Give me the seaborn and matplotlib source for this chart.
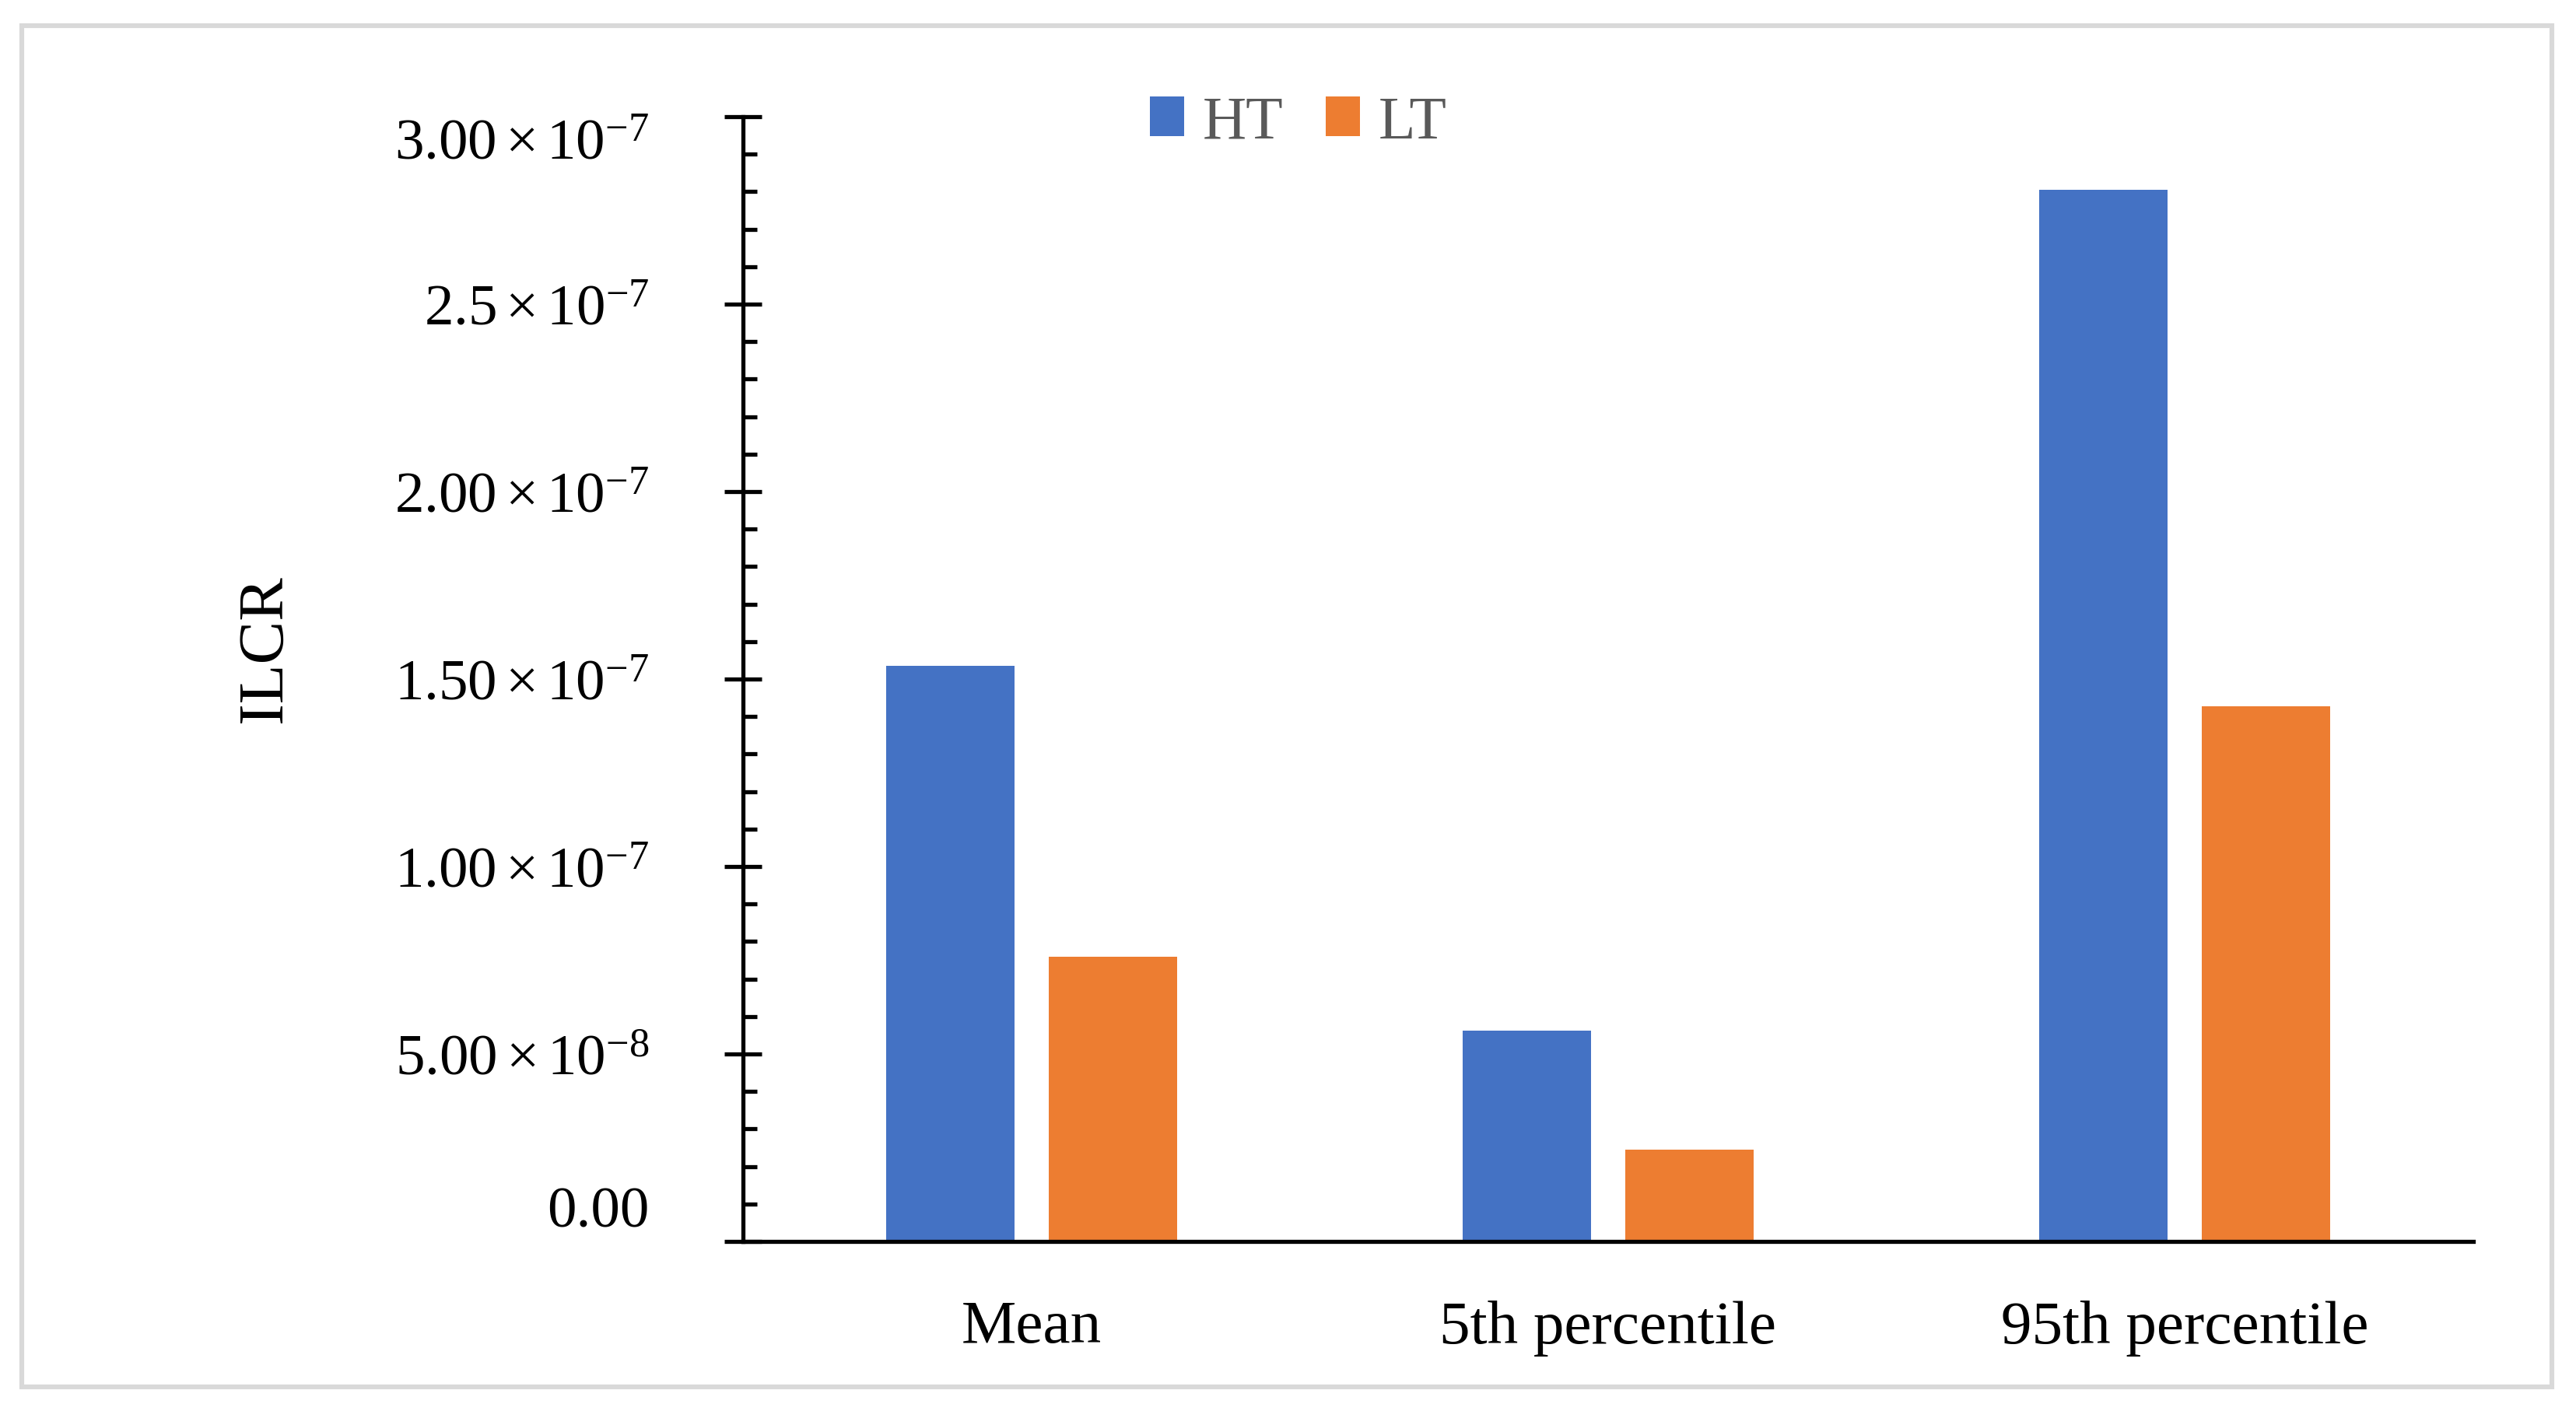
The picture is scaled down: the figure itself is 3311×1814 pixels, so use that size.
import numpy as np
import pandas as pd
import matplotlib
matplotlib.use("Agg")
import matplotlib.pyplot as plt
import seaborn as sns
from matplotlib.ticker import MultipleLocator, FixedLocator
import matplotlib.transforms as mtransforms
from matplotlib.patches import Rectangle

# ---- data ----
categories = ["Mean", "5th percentile", "95th percentile"]
groups = ["HT", "LT"]
ht_values = [1.535e-7, 0.562e-7, 2.805e-7]
lt_values = [0.760e-7, 0.245e-7, 1.428e-7]
ytick_values = [0.0, 0.5e-7, 1.0e-7, 1.5e-7, 2.0e-7, 2.5e-7, 3.0e-7]
ytick_labels = ["0.00",
                r"$5.00\times10^{-8}$",
                r"$1.00\times10^{-7}$",
                r"$1.50\times10^{-7}$",
                r"$2.00\times10^{-7}$",
                r"$2.5\times10^{-7}$",
                r"$3.00\times10^{-7}$"]
colors = ["#4472C4", "#ED7D31"]
y_label = "ILCR"

df = pd.DataFrame({
    "Statistic": categories * 2,
    "Group": [groups[0]] * len(categories) + [groups[1]] * len(categories),
    "ILCR": ht_values + lt_values,
})

sns.set_theme(style="white")
plt.rcParams["font.family"] = ["Liberation Serif", "DejaVu Serif"]
plt.rcParams["mathtext.fontset"] = "custom"
plt.rcParams["mathtext.rm"] = "Liberation Serif"
plt.rcParams["mathtext.it"] = "Liberation Serif:italic"
plt.rcParams["mathtext.bf"] = "Liberation Serif:bold"

W, H = 3311, 1815
DPI = 200
fig = plt.figure(figsize=(W / DPI, H / DPI), dpi=DPI)
fig.patch.set_facecolor("white")

left, right, bottom, top = 955 / W, 3179 / W, 1 - 1597 / H, 1 - 151 / H
ax = fig.add_axes([left, bottom, right - left, top - bottom])

sns.barplot(data=df, x="Statistic", y="ILCR", hue="Group",
            order=categories, hue_order=groups, palette=colors,
            saturation=1, width=0.564, gap=0.212, errorbar=None,
            linewidth=0, ax=ax)

ax.set_xlim(-0.5, 2.5)
ax.set_ylim(0, 3e-7)

for s in ["top", "right"]:
    ax.spines[s].set_visible(False)
for s in ["left", "bottom"]:
    ax.spines[s].set_linewidth(1.9)
    ax.spines[s].set_color("black")

ax.yaxis.set_major_locator(FixedLocator(ytick_values))
ax.set_yticklabels(ytick_labels)
ax.yaxis.set_minor_locator(MultipleLocator(1e-8))
ax.tick_params(axis="y", which="major", direction="inout", length=17,
               width=1.9, color="black", pad=35, labelsize=27,
               labelcolor="black", left=True)
ax.tick_params(axis="y", which="minor", direction="in", length=6.5,
               width=1.9, color="black", left=True)
ax.tick_params(axis="x", which="both", length=0, pad=27, labelsize=28.5,
               labelcolor="black")

ax.set_xlabel("")
ax.set_ylabel(y_label, fontsize=30, color="black")
ax.yaxis.label.set_verticalalignment("center")
ax.yaxis.set_label_coords((341 - 955) / (3179 - 955), (1597 - 834) / (1597 - 151))

# legend
handles, labels = ax.get_legend_handles_labels()
if ax.get_legend() is not None:
    ax.get_legend().remove()
fig.legend(handles, labels, loc="center", bbox_to_anchor=(0.504, 1 - 159 / H),
           ncol=2, frameon=False, fontsize=28, labelcolor="#595959",
           handlelength=0.57, handleheight=0.62, handletextpad=0.3,
           columnspacing=0.7, borderaxespad=0, borderpad=0)

# outer light-grey frame
fig.add_artist(Rectangle((28 / W, 1 - 1784 / H), (3280 - 28) / W, (1784 - 34) / H,
                         transform=fig.transFigure, fill=False,
                         edgecolor="#D9D9D9", linewidth=2.2))

# Excel-like nudges of the extreme tick labels
fig.canvas.draw()
ylabels = ax.get_yticklabels()
ylabels[0].set_transform(ylabels[0].get_transform() +
                         mtransforms.ScaledTranslation(0, 45 / DPI, fig.dpi_scale_trans))
ylabels[-1].set_transform(ylabels[-1].get_transform() +
                          mtransforms.ScaledTranslation(0, -28 / DPI, fig.dpi_scale_trans))

fig.savefig("out.png", dpi=DPI, facecolor="white")
